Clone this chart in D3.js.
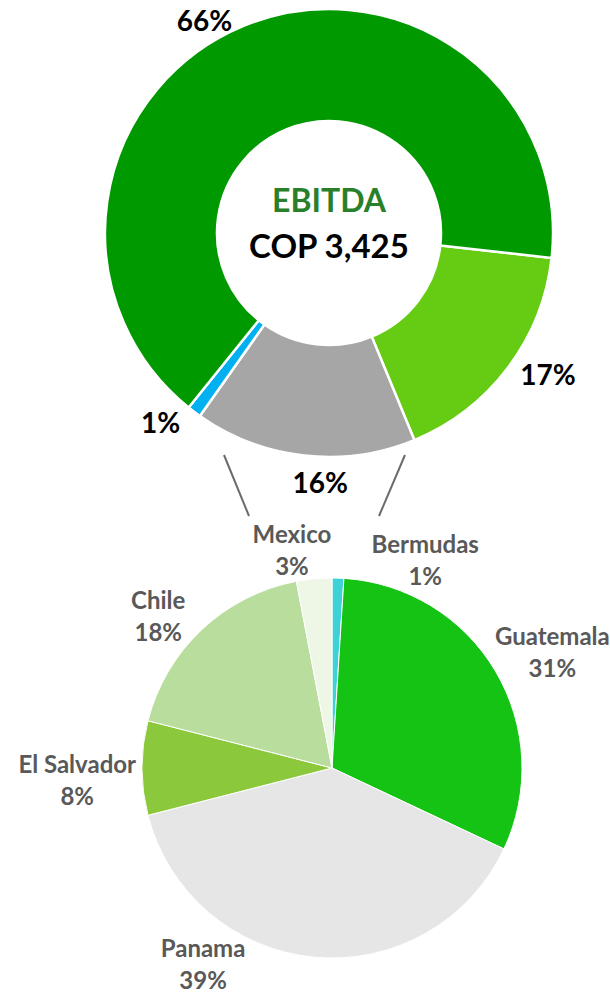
<!DOCTYPE html>
<html>
<head>
<meta charset="utf-8">
<script src="https://cdn.jsdelivr.net/npm/d3@7"></script>
<style>
  html, body { margin: 0; padding: 0; background: #fff; overflow: hidden; }
  svg { display: block; font-family: Lato, "Open Sans", sans-serif; font-weight: 700; }
</style>
</head>
<body>
<svg id="chart" width="610" height="993"></svg>
<script>
// EBITDA split (donut), drawn clockwise from the 17% slice
const ebitdaKeys   = ["b", "gray", "blue", "a"];
const ebitdaShares = [17, 16, 1, 66];
const ebitdaColors = ["#66cc13", "#a6a6a6", "#00b0f0", "#009900"];
const ebitdaTitle  = "EBITDA";
const ebitdaTotal  = "COP 3,425";

// breakdown of the gray slice (pie), clockwise from 12 o'clock
const countries      = ["Bermudas", "Guatemala", "Panama", "El Salvador", "Chile", "Mexico"];
const countryShares  = [1, 31, 39, 8, 18, 3];
const countryColors  = ["#3cd2d6", "#14c314", "#e6e6e6", "#8cc83c", "#b8dd9c", "#eef7e6"];

const rad = deg => deg * Math.PI / 180;

const svg = d3.select("#chart");

// ---- donut ----
const donut = {cx: 329, cy: 233, r0: 112, r1: 224, start: 96.4},
      // label nudges (deg) and radii, excel-like best fit
      donutLbl = [[-4, 261], [-4.4, 250], [4.5, 254], [-8, 246]];

const donutPie = d3.pie().sort(null).value(d => d)
  .startAngle(rad(donut.start)).endAngle(rad(donut.start + 360));
const donutArc = d3.arc().innerRadius(donut.r0).outerRadius(donut.r1);

const gD = svg.append("g").attr("transform", `translate(${donut.cx},${donut.cy})`);

gD.selectAll("path.slice")
  .data(donutPie(ebitdaShares))
  .join("path")
    .classed("slice", true)
    .attr("d", donutArc)
    .attr("fill", (d, i) => ebitdaColors[i])
    .attr("stroke", "#fff")
    .attr("stroke-width", 2.5)
    .attr("stroke-linejoin", "miter");

gD.selectAll("text.pct")
  .data(donutPie(ebitdaShares))
  .join("text")
    .classed("pct", true)
    .attr("text-anchor", "middle")
    .attr("dy", "0.36em")
    .attr("font-size", 28)
    .attr("fill", "#000")
    .attr("transform", (d, i) => {
      let [nudge, r] = donutLbl[i],
          a = (d.startAngle + d.endAngle) / 2 + rad(nudge);
      return `translate(${r * Math.sin(a)},${-r * Math.cos(a)})`;
    })
    .text(d => d.data + "%");

gD.append("text")
  .attr("text-anchor", "middle")
  .attr("y", -21)
  .attr("font-size", 32)
  .attr("fill", "#2a7f2a")
  .text(ebitdaTitle);

gD.append("text")
  .attr("text-anchor", "middle")
  .attr("y", 25)
  .attr("font-size", 33)
  .attr("fill", "#000")
  .text(ebitdaTotal);

// ---- pie ----
const pie = {cx: 332, cy: 768, r: 190},
      pieLbl = [[22.1, 230], [2.4, 250], [28.2, 233], [-2.25, 255], [-5.3, 232], [-4.9, 224]];

const countryPie = d3.pie().sort(null).value(d => d);
const countryArc = d3.arc().innerRadius(0).outerRadius(pie.r);

const gP = svg.append("g").attr("transform", `translate(${pie.cx},${pie.cy})`);

gP.selectAll("path.slice")
  .data(countryPie(countryShares))
  .join("path")
    .classed("slice", true)
    .attr("d", countryArc)
    .attr("fill", (d, i) => countryColors[i])
    .attr("stroke", "#fff")
    .attr("stroke-width", 1);

let lbl = gP.selectAll("g.lbl")
  .data(countryPie(countryShares))
  .join("g")
    .classed("lbl", true)
    .attr("transform", (d, i) => {
      let [nudge, r] = pieLbl[i],
          a = (d.startAngle + d.endAngle) / 2 + rad(nudge);
      return `translate(${r * Math.sin(a)},${-r * Math.cos(a)})`;
    });

lbl.append("text")
  .attr("text-anchor", "middle")
  .attr("font-size", 24)
  .attr("fill", "#595959")
  .attr("y", -5)
  .text((d, i) => countries[i]);

lbl.append("text")
  .attr("text-anchor", "middle")
  .attr("font-size", 24)
  .attr("fill", "#595959")
  .attr("y", 27)
  .text(d => d.data + "%");

// ---- connectors from the gray slice down to the pie ----
const connectors = [[[224, 455], [249, 516]], [[405, 455], [379, 516]]];
svg.selectAll("line.conn")
  .data(connectors)
  .join("line")
    .classed("conn", true)
    .attr("x1", d => d[0][0]).attr("y1", d => d[0][1])
    .attr("x2", d => d[1][0]).attr("y2", d => d[1][1])
    .attr("stroke", "#6b6b6b")
    .attr("stroke-width", 2);
</script>
</body>
</html>
